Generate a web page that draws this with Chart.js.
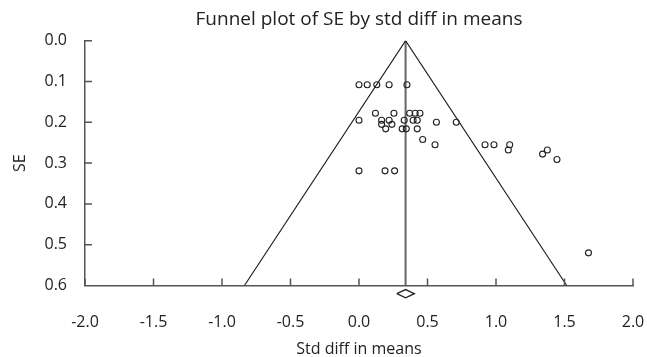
<!DOCTYPE html>
<html>
<head>
<meta charset="utf-8">
<script src="https://cdn.jsdelivr.net/npm/chart.js@4.4.0/dist/chart.umd.min.js"></script>
<style>
  html, body { margin: 0; padding: 0; background: #fff; }
  #wrap { width: 647px; height: 357px; }
</style>
</head>
<body>
<div id="wrap"><canvas id="myChart"></canvas></div>
<script>

const studyDiff = [0.00, 0.06, 0.13, 0.22, 0.35,
    0.12, 0.255, 0.37, 0.41, 0.445,
    0.00, 0.165, 0.22, 0.33, 0.395, 0.425,
    0.565, 0.71,
    0.165, 0.24,
    0.195, 0.315, 0.345, 0.425,
    0.465,
    0.555, 0.92, 0.985, 1.10,
    1.09, 1.34, 1.375, 1.445,
    0.00, 0.19, 0.26,
    1.675]
const studySE = [0.108, 0.108, 0.108, 0.108, 0.108,
    0.178, 0.178, 0.178, 0.178, 0.178,
    0.195, 0.195, 0.195, 0.195, 0.195, 0.195,
    0.200, 0.200,
    0.205, 0.205,
    0.216, 0.216, 0.216, 0.216,
    0.242,
    0.255, 0.255, 0.255, 0.255,
    0.268, 0.278, 0.268, 0.291,
    0.319, 0.319, 0.319,
    0.520]

const funnelX = [-0.836, 0.34, 1.516]
const funnelY = [0.6, 0, 0.6]
const pooledX = [0.34, 0.34]
const pooledY = [0, 0.6]
const diamondX = [0.276, 0.34, 0.404, 0.34, 0.276]
const diamondY = [0.62, 0.61, 0.62, 0.63, 0.62]

const xTicks = [-2.0, -1.5, -1.0, -0.5, 0.0, 0.5, 1.0, 1.5, 2.0]
const yTicks = [0.0, 0.1, 0.2, 0.3, 0.4, 0.5, 0.6]

const titleText = 'Funnel plot of SE by std diff in means'
const xTitle = 'Std diff in means'
const yTitle = 'SE'

const toPoints = (xs, ys) => xs.map((x, i) => ({x: x, y: ys[i]}))

const FONT = "'Open Sans', sans-serif"
const axisColor = '#555'

// title centred over the plot area, and tick marks pointing inward
const extras = {
    id: 'extras',
    afterDraw(chart) {
        const c = chart.ctx
        const area = chart.chartArea
        const xs = chart.scales.x
        const ys = chart.scales.y
        c.save()
        c.strokeStyle = axisColor
        c.lineWidth = 1.5
        c.beginPath()
        xTicks.forEach(v => {
            const px = xs.getPixelForValue(v)
            c.moveTo(px, area.bottom)
            c.lineTo(px, area.bottom - 7)
        })
        yTicks.slice(0, -1).forEach(v => {
            const py = ys.getPixelForValue(v)
            c.moveTo(area.left, py)
            c.lineTo(area.left + 7, py)
        })
        c.stroke()

        c.fillStyle = '#222'
        c.font = '19px ' + FONT
        c.textAlign = 'center'
        c.textBaseline = 'middle'
        c.fillText(titleText, (area.left + area.right) / 2, 20)
        c.restore()
    }
}

const ctx = document.getElementById('myChart')

const chart = new Chart(ctx, {
    type: 'scatter',
    data: {
        datasets: [{
            label: 'studies',
            data: toPoints(studyDiff, studySE),
            pointRadius: 3,
            pointBorderWidth: 1.1,
            pointBorderColor: '#222',
            pointBackgroundColor: 'rgba(0,0,0,0)',
            order: 1
        }, {
            type: 'line',
            label: 'funnel',
            data: toPoints(funnelX, funnelY),
            borderColor: '#222',
            borderWidth: 1.2,
            pointRadius: 0,
            fill: false,
            tension: 0,
            order: 2
        }, {
            type: 'line',
            label: 'pooled',
            data: toPoints(pooledX, pooledY),
            borderColor: '#666',
            borderWidth: 2,
            pointRadius: 0,
            fill: false,
            order: 3
        }, {
            type: 'line',
            label: 'diamond',
            data: toPoints(diamondX, diamondY),
            borderColor: '#222',
            borderWidth: 1.3,
            pointRadius: 0,
            fill: false,
            clip: false,
            order: 4
        }]
    },
    options: {
        responsive: true,
        maintainAspectRatio: false,
        animation: false,
        layout: {
            padding: {left: 0, right: 14, top: 40.7, bottom: 0}
        },
        plugins: {
            legend: {display: false},
            tooltip: {enabled: false}
        },
        scales: {
            x: {
                type: 'linear',
                min: -2,
                max: 2,
                afterFit: (scale) => {
                    scale.height = 71.5
                    scale.paddingLeft = 0
                    scale.paddingRight = 0
                },
                afterBuildTicks: (scale) => { scale.ticks = xTicks.map(v => ({value: v})) },
                grid: {display: false, drawTicks: false},
                border: {display: true, color: axisColor, width: 1.5},
                ticks: {
                    padding: 27,
                    color: '#222',
                    font: {family: FONT, size: 16},
                    maxRotation: 0,
                    callback: (v) => v.toFixed(1)
                },
                title: {
                    display: true,
                    text: xTitle,
                    color: '#222',
                    font: {family: FONT, size: 16, lineHeight: 1},
                    padding: {top: 0, bottom: 0}
                }
            },
            y: {
                type: 'linear',
                min: 0,
                max: 0.6,
                reverse: true,
                afterFit: (scale) => {
                    scale.width = 85
                    scale.paddingTop = 0
                    scale.paddingBottom = 0
                },
                afterBuildTicks: (scale) => { scale.ticks = yTicks.map(v => ({value: v})) },
                grid: {display: false, drawTicks: false},
                border: {display: true, color: axisColor, width: 1.5},
                ticks: {
                    padding: 18,
                    color: '#222',
                    font: {family: FONT, size: 16},
                    callback: (v) => v.toFixed(1)
                },
                title: {
                    display: true,
                    text: yTitle,
                    color: '#222',
                    font: {family: FONT, size: 16, lineHeight: 1},
                    padding: {top: 12, bottom: 0}
                }
            }
        }
    },
    plugins: [extras]
})
</script>
</body>
</html>
